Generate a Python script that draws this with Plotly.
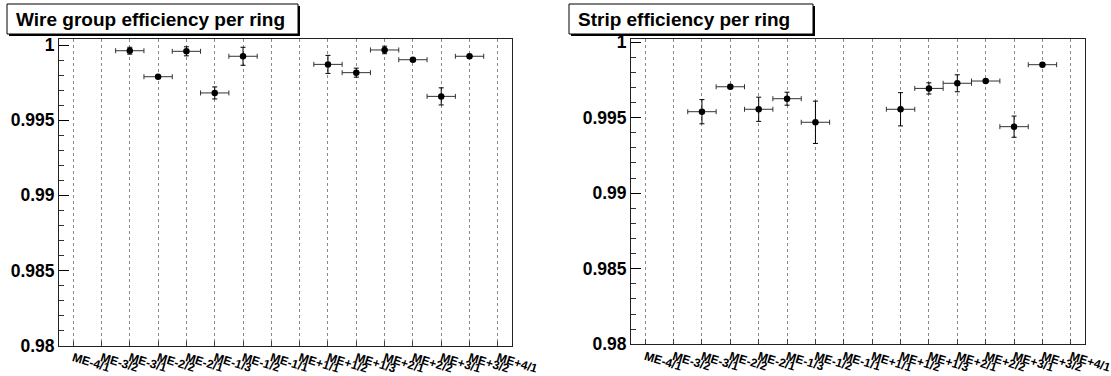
import plotly.graph_objects as go

categories = ["ME-4/1", "ME-3/2", "ME-3/1", "ME-2/2", "ME-2/1", "ME-1/3", "ME-1/2", "ME-1/1",
              "ME+1/1", "ME+1/2", "ME+1/3", "ME+2/1", "ME+2/2", "ME+3/1", "ME+3/2", "ME+4/1"]

wire_rings = ["ME-3/1", "ME-2/2", "ME-2/1", "ME-1/3", "ME-1/2",
              "ME+1/2", "ME+1/3", "ME+2/1", "ME+2/2", "ME+3/1", "ME+3/2"]
wire_eff = [0.99962, 0.99789, 0.99958, 0.99681, 0.99925,
            0.99871, 0.99816, 0.99967, 0.99902, 0.99658, 0.99925]
wire_err = [0.00023, 0.00008, 0.00030, 0.00040, 0.00060,
            0.00060, 0.00030, 0.00025, 0.00010, 0.00057, 0.00010]

strip_rings = ["ME-3/1", "ME-2/2", "ME-2/1", "ME-1/3", "ME-1/2",
               "ME+1/2", "ME+1/3", "ME+2/1", "ME+2/2", "ME+3/1", "ME+3/2"]
strip_eff = [0.99539, 0.99704, 0.99555, 0.99625, 0.99469,
             0.99555, 0.99693, 0.99727, 0.99742, 0.99440, 0.99850]
strip_err = [0.00080, 0.00010, 0.00080, 0.00043, 0.00140,
             0.00110, 0.00037, 0.00056, 0.00010, 0.00070, 0.00010]

titles = ["Wire group efficiency per ring", "Strip efficiency per ring"]
y_ticks = [0.98, 0.985, 0.99, 0.995, 1.0]
y_ticktext = ["0.98", "0.985", "0.99", "0.995", "1"]

W, H = 1111, 376


def px(x):
    return x / W


def py(y):
    return 1 - y / H


fig = go.Figure()

panels = [
    dict(rings=wire_rings, eff=wire_eff, err=wire_err, xa="x", ya="y",
         xdom=[px(59), px(512)], ydom=[py(345.5), py(39)], ytop=1.0004),
    dict(rings=strip_rings, eff=strip_eff, err=strip_err, xa="x2", ya="y2",
         xdom=[px(631), px(1085)], ydom=[py(344.3), py(39)], ytop=1.0002),
]

for i, p in enumerate(panels):
    xs = [categories.index(r) for r in p["rings"]]
    fig.add_trace(go.Scatter(
        x=xs, y=p["eff"], mode="markers", xaxis=p["xa"], yaxis=p["ya"],
        marker=dict(color="black", size=6.5, symbol="circle"),
        error_y=dict(type="data", array=p["err"], color="black", thickness=1, width=2.5),
        error_x=dict(type="data", array=[0.5] * len(xs), color="#333333", thickness=1, width=2.5),
        showlegend=False, hoverinfo="skip",
    ))
    sfx = "" if i == 0 else "2"
    fig.layout["xaxis" + sfx] = dict(
        domain=p["xdom"], anchor="y" + sfx, range=[-0.5, 15.5], automargin=False,
        tickmode="array", tickvals=list(range(len(categories))), ticktext=categories,
        tickangle=17, ticks="inside", ticklen=5, tickcolor="#444444",
        ticklabeloverflow="allow",
        tickfont=dict(family="Liberation Sans", size=12, color="black", weight="bold"),
        showgrid=True, gridcolor="#8a8a8a", griddash="dot", gridwidth=1,
        showline=True, linecolor="#222222", linewidth=1, mirror=True, zeroline=False,
    )
    fig.layout["yaxis" + sfx] = dict(
        domain=p["ydom"], anchor="x" + sfx, range=[0.98, p["ytop"]], automargin=False,
        tickmode="array", tickvals=y_ticks, ticktext=y_ticktext,
        ticks="inside", ticklen=10, tickcolor="black",
        minor=dict(ticks="inside", ticklen=5, dtick=0.001, tick0=0.98, tickcolor="#333333", showgrid=False),
        tickfont=dict(family="Liberation Sans", size=17.5, color="black", weight="bold"),
        showgrid=False, showline=True, linecolor="#222222", linewidth=1, mirror=True, zeroline=False,
    )

boxes = [(7, 298), (569, 813)]
for (x0, x1), t in zip(boxes, titles):
    fig.add_shape(type="rect", xref="paper", yref="paper",
                  x0=px(x0 + 2), x1=px(x1 + 2), y0=py(36), y1=py(6),
                  fillcolor="black", line=dict(width=0), layer="above")
    fig.add_shape(type="rect", xref="paper", yref="paper",
                  x0=px(x0), x1=px(x1), y0=py(34), y1=py(4),
                  fillcolor="white", line=dict(color="black", width=1), layer="above")
    fig.add_annotation(xref="paper", yref="paper", x=px(x0 + 7), y=py(19.5),
                       xanchor="left", yanchor="middle", text=t, showarrow=False,
                       font=dict(family="Liberation Sans", size=19, color="black", weight="bold"))

fig.update_layout(width=W, height=H, autosize=False,
                  margin=dict(l=0, r=0, t=0, b=0, pad=0),
                  paper_bgcolor="white", plot_bgcolor="white")

fig.write_html("out.html", config={"displayModeBar": False},
               post_script="document.body.style.margin='0';document.body.style.overflow='hidden';")
